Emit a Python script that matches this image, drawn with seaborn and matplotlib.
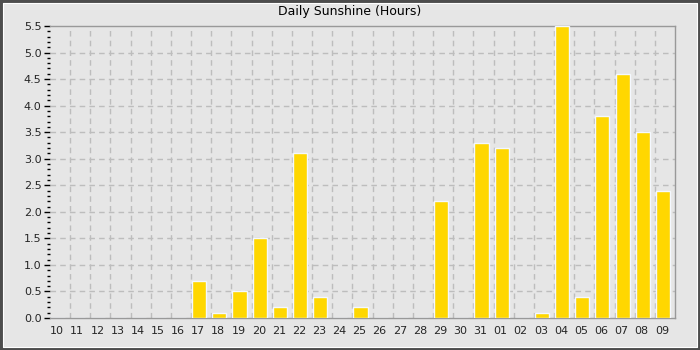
import matplotlib
matplotlib.use("Agg")
import matplotlib.pyplot as plt
import matplotlib.transforms as mtransforms
import seaborn as sns
import pandas as pd
import numpy as np
from matplotlib.patches import Rectangle
from matplotlib.ticker import MultipleLocator, FormatStrFormatter

days = ["10","11","12","13","14","15","16","17","18","19","20","21","22","23","24",
        "25","26","27","28","29","30","31","01","02","03","04","05","06","07","08","09"]
sunshine = [0,0,0,0,0,0,0,0.7,0.1,0.5,1.5,0.2,3.1,0.4,0,
            0.2,0,0,0,2.2,0,3.3,3.2,0,0.1,5.5,0.4,3.8,4.6,3.5,2.4]
title = "Daily Sunshine (Hours)"

df = pd.DataFrame({"day": days, "hours": sunshine})

sns.set_theme(style="white")
plt.rcParams["font.family"] = ["DejaVu Sans"]

bg = "#e6e6e6"
fig = plt.figure(figsize=(7, 3.5), dpi=100, facecolor=bg)
ax = fig.add_axes([50/700, 1-318/350, 625/700, 292/350])
ax.set_facecolor(bg)

sns.barplot(data=df, x="day", y="hours", order=days, color="#FFD700",
            saturation=1, width=0.7, edgecolor="#f4f8ff", linewidth=1, ax=ax, zorder=3)

# shift bars and labels slightly left, as in the reference
shift = mtransforms.ScaledTranslation(-2/100, 0, fig.dpi_scale_trans)
for p in ax.patches:
    p.set_transform(ax.transData + shift)

ax.set_xlim(-0.5, len(days)-0.5)
ax.set_ylim(0, 5.5)
ax.yaxis.set_major_locator(MultipleLocator(0.5))
ax.yaxis.set_minor_locator(MultipleLocator(0.1))
ax.yaxis.set_major_formatter(FormatStrFormatter("%.1f"))
ax.tick_params(axis="y", which="major", length=4, width=1, color="black", labelsize=8, pad=2, left=True)
ax.tick_params(axis="y", which="minor", length=2, width=1, color="black", left=True)
ax.tick_params(axis="x", length=0, labelsize=8, pad=6)
lshift = mtransforms.ScaledTranslation(-3/100, 0, fig.dpi_scale_trans)
for lab in ax.get_xticklabels():
    lab.set_transform(lab.get_transform() + lshift)
ax.set_xlabel("")
ax.set_ylabel("")

# grid
for yv in np.arange(0.5, 5.5, 0.5):
    ax.axhline(yv, color="#bdbdbd", linestyle=(0, (4, 3)), linewidth=1, zorder=1)
for xv in np.arange(0.5, len(days)-0.5, 1):
    ax.axvline(xv, color="#bdbdbd", linestyle=(0, (4, 3)), linewidth=1, zorder=1)

for s in ["top", "right", "bottom"]:
    ax.spines[s].set_visible(True)
    ax.spines[s].set_color("#999999")
    ax.spines[s].set_linewidth(1)
ax.spines["left"].set_visible(False)

fig.text(0.5, 1-12/350, title, ha="center", va="center", fontsize=9, color="black")

# border
fig.patches.append(Rectangle((1/700, 1/350), 698/700, 348/350, transform=fig.transFigure,
                             fill=False, edgecolor="#4d4d4d", linewidth=2.2, zorder=10))
fig.patches.append(Rectangle((3/700, 3/350), 694/700, 344/350, transform=fig.transFigure,
                             fill=False, edgecolor="white", linewidth=0.8, zorder=10))

fig.savefig("out.png", dpi=100, facecolor=bg)
